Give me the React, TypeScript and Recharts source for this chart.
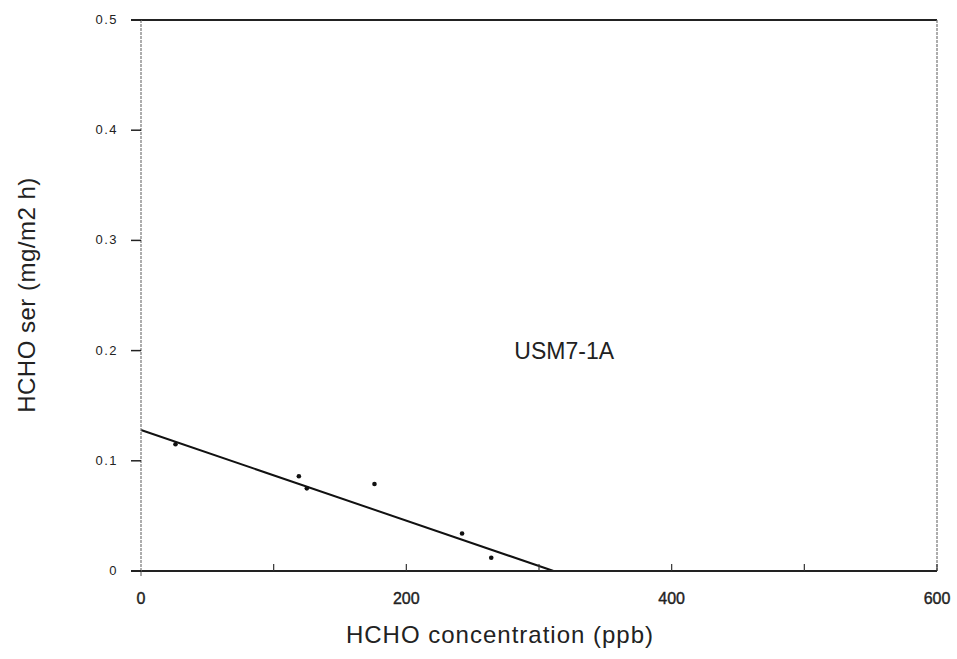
import React from 'react';
import {
  ComposedChart,
  Scatter,
  Line,
  XAxis,
  YAxis,
  ReferenceLine,
  ReferenceDot,
} from 'recharts';

// measured emission rate vs chamber concentration
const concentration = [26, 119, 125, 176, 242, 264];
const emissionRate = [0.115, 0.086, 0.075, 0.079, 0.034, 0.012];

// linear fit, from intercept down to where it crosses zero
const fitX = [0, 311];
const fitY = [0.128, 0];

const xTicks = [0, 100, 200, 300, 400, 500, 600];
const xLabelled = [0, 200, 400, 600];
const yTicks = [0, 0.1, 0.2, 0.3, 0.4, 0.5];

const points = concentration.map((x, i) => ({ x, y: emissionRate[i] }));
const fitLine = fitX.map((x, i) => ({ x, y: fitY[i] }));

const FONT = '"Liberation Sans", Arial, Helvetica, sans-serif';

const XTick = (props: any) => {
  const { x, y, payload } = props;
  const v = payload.value;
  return (
    <g>
      {v > 0 && <line x1={x} x2={x} y1={y} y2={y - 7} stroke="#333" strokeWidth={1.2} />}
      {v === 0 && <line x1={x} x2={x} y1={y} y2={y + 5} stroke="#555" strokeWidth={1} />}
      {xLabelled.includes(v) && (
        <text
          x={x}
          y={y + 33}
          textAnchor="middle"
          fontSize={16}
          fontFamily={FONT}
          fill="#222"
          stroke="#222"
          strokeWidth={0.4}
        >
          {v}
        </text>
      )}
    </g>
  );
};

// x arrives at the outer end of the tick (tickSize 10 left of the axis)
const YTick = (props: any) => {
  const { x, y, payload } = props;
  const v = payload.value;
  const edge = v === 0 || v === 0.5;
  return (
    <g>
      <line
        x1={x}
        x2={x + 10}
        y1={y}
        y2={y}
        stroke="#222"
        strokeWidth={edge ? 2 : 1.5}
      />
      <text
        x={x - 13}
        y={y + 4}
        textAnchor="end"
        fontSize={13}
        letterSpacing={1.5}
        fontFamily={FONT}
        fill="#222"
      >
        {v === 0 ? '0' : v.toFixed(1)}
      </text>
    </g>
  );
};

const DotShape = (props: any) => {
  const { cx, cy } = props;
  return <circle cx={cx} cy={cy} r={2.3} fill="#111" />;
};

export default function App() {
  return (
    <div style={{ position: 'absolute', left: 0, top: 0, background: '#fff' }}>
      <ComposedChart
        width={957}
        height={659}
        margin={{ top: 20, right: 20, bottom: 58, left: 81 }}
      >
        <XAxis
          type="number"
          dataKey="x"
          domain={[0, 600]}
          ticks={xTicks}
          interval={0}
          height={30}
          tickSize={0}
          tickMargin={0}
          tickLine={false}
          axisLine={{ stroke: '#222', strokeWidth: 2 }}
          tick={<XTick />}
          label={{
            content: () => (
              <text
                x={500}
                y={643}
                textAnchor="middle"
                fontSize={24}
                letterSpacing={1}
                fontFamily={FONT}
                fill="#222"
              >
                HCHO concentration (ppb)
              </text>
            ),
          }}
        />
        <YAxis
          type="number"
          dataKey="y"
          domain={[0, 0.5]}
          ticks={yTicks}
          interval={0}
          width={60}
          tickSize={10}
          tickMargin={0}
          tickLine={false}
          axisLine={{ stroke: '#777', strokeWidth: 1.2, strokeDasharray: '3 1' }}
          tick={<YTick />}
          label={{
            content: () => (
              <text
                x={35}
                y={295}
                transform="rotate(-90 35 295)"
                textAnchor="middle"
                fontSize={24}
                letterSpacing={0.5}
                fontFamily={FONT}
                fill="#222"
              >
                HCHO ser (mg/m2 h)
              </text>
            ),
          }}
        />
        <ReferenceLine y={0.5} stroke="#222" strokeWidth={2} />
        <ReferenceLine x={600} stroke="#777" strokeWidth={1.2} strokeDasharray="3 1" />
        <ReferenceDot
          x={319}
          y={0.2}
          r={0}
          fill="none"
          stroke="none"
          label={{ value: 'USM7-1A', position: 'center', fontSize: 23, fontFamily: FONT, fill: '#222' }}
        />
        <Line
          data={fitLine}
          dataKey="y"
          type="linear"
          stroke="#111"
          strokeWidth={2}
          dot={false}
          activeDot={false}
          isAnimationActive={false}
        />
        <Scatter data={points} dataKey="y" shape={<DotShape />} isAnimationActive={false} />
      </ComposedChart>
    </div>
  );
}
